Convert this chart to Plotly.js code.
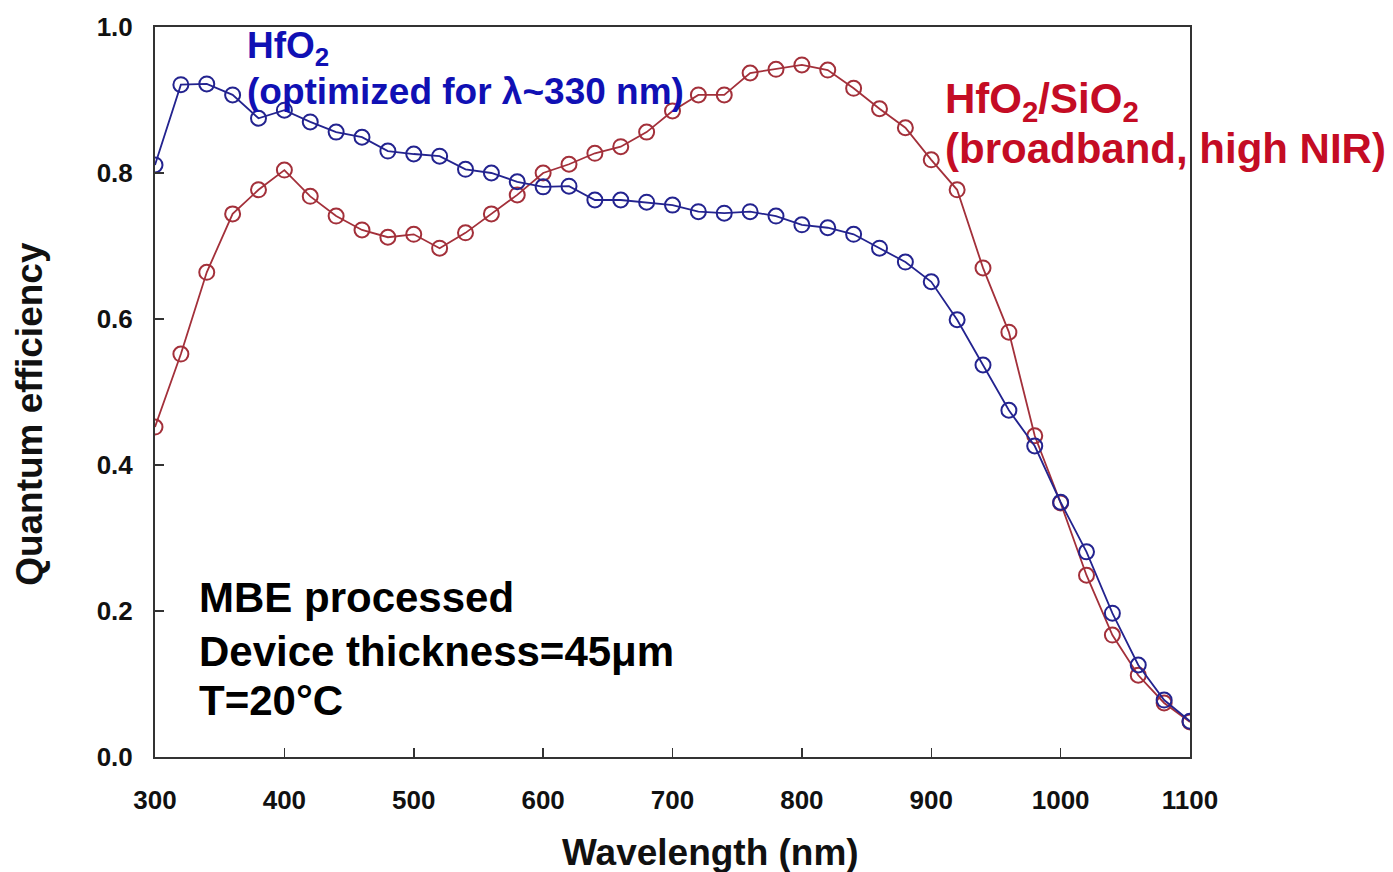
<!DOCTYPE html>
<html>
<head>
<meta charset="utf-8">
<script src="https://cdn.plot.ly/plotly-3.0.1.min.js"></script>
<style>html,body{margin:0;padding:0;background:#fff;}#chart{width:1393px;height:872px;}</style>
</head>
<body>
<div id="chart"></div>
<script>
const wavelength = [300,320,340,360,380,400,420,440,460,480,500,520,540,560,580,600,620,640,660,680,700,720,740,760,780,800,820,840,860,880,900,920,940,960,980,1000,1020,1040,1060,1080,1100];
const qeHfO2 = [0.811,0.921,0.922,0.907,0.875,0.886,0.870,0.856,0.849,0.830,0.826,0.823,0.805,0.800,0.788,0.781,0.782,0.763,0.763,0.760,0.756,0.747,0.745,0.747,0.741,0.729,0.725,0.716,0.697,0.678,0.651,0.599,0.537,0.475,0.426,0.349,0.281,0.197,0.126,0.078,0.049];
const qeHfO2SiO2 = [0.452,0.552,0.664,0.744,0.777,0.804,0.768,0.741,0.722,0.712,0.716,0.697,0.718,0.744,0.770,0.800,0.812,0.827,0.836,0.856,0.885,0.907,0.907,0.937,0.942,0.948,0.941,0.916,0.888,0.862,0.818,0.777,0.670,0.582,0.440,0.348,0.249,0.167,0.112,0.074,0.048];
const xTicks = [300,400,500,600,700,800,900,1000,1100];
const yTicks = [0.0,0.2,0.4,0.6,0.8,1.0];

const F = '"Liberation Sans", Arial, Helvetica, sans-serif';
const blueLine = '#23238f', redLine = '#a3303a';
const blueText = '#1010b4', redText = '#c40c24';

const traces = [
  {x: wavelength, y: qeHfO2SiO2, mode: 'lines+markers', name: 'HfO2/SiO2',
   line: {color: redLine, width: 1.8},
   marker: {symbol: 'circle-open', size: 15, color: redLine, line: {width: 2, color: redLine}}},
  {x: wavelength, y: qeHfO2, mode: 'lines+markers', name: 'HfO2',
   line: {color: blueLine, width: 1.8},
   marker: {symbol: 'circle-open', size: 15, color: blueLine, line: {width: 2, color: blueLine}}}
];

function ann(text, x, y, color, size, extra) {
  return Object.assign({text: text, xref: 'paper', yref: 'paper', x: x, y: y, xanchor: 'left', yanchor: 'middle',
          showarrow: false, font: {family: F, size: size, color: color, weight: 'bold'}}, extra || {});
}

const layout = {
  width: 1393, height: 872,
  margin: {l: 155, r: 203, t: 27, b: 115},
  paper_bgcolor: '#fff', plot_bgcolor: '#fff',
  showlegend: false,
  font: {family: F, color: '#111'},
  xaxis: {
    range: [300, 1100], tickvals: xTicks, ticktext: xTicks.map(String),
    ticks: 'inside', ticklen: 9, tickwidth: 1.5, tickcolor: '#333',
    showline: true, linecolor: '#333', linewidth: 2, mirror: true,
    showgrid: false, zeroline: false,
    ticklabelstandoff: 19,
    tickfont: {family: F, size: 26, color: '#111', weight: 'bold'}
  },
  yaxis: {
    range: [0, 1.0], tickvals: yTicks, ticktext: yTicks.map(v => v.toFixed(1)),
    ticks: 'inside', ticklen: 9, tickwidth: 1.5, tickcolor: '#333',
    showline: true, linecolor: '#333', linewidth: 2, mirror: true,
    showgrid: false, zeroline: false,
    ticklabelstandoff: 15,
    tickfont: {family: F, size: 26, color: '#111', weight: 'bold'}
  },
  annotations: [
    ann('Wavelength (nm)', 0.537, -0.1315, '#111', 37, {xanchor: 'center'}),
    ann('Quantum efficiency', -0.1208, 0.47, '#111', 37, {xanchor: 'center', textangle: -90}),
    ann('HfO<sub>2</sub>', 0.087, 0.971, blueText, 37),
    ann('(optimized for λ~330 nm)', 0.087, 0.912, blueText, 37),
    ann('HfO<sub>2</sub>/SiO<sub>2</sub>', 0.761, 0.898, redText, 42),
    ann('(broadband, high NIR)', 0.761, 0.834, redText, 42),
    ann('MBE processed', 0.0406, 0.218, '#000', 42),
    ann('Device thickness=45μm', 0.0406, 0.145, '#000', 42),
    ann('T=20°C', 0.0406, 0.077, '#000', 42)
  ]
};

Plotly.newPlot('chart', traces, layout, {staticPlot: true, displayModeBar: false});
</script>
</body>
</html>
